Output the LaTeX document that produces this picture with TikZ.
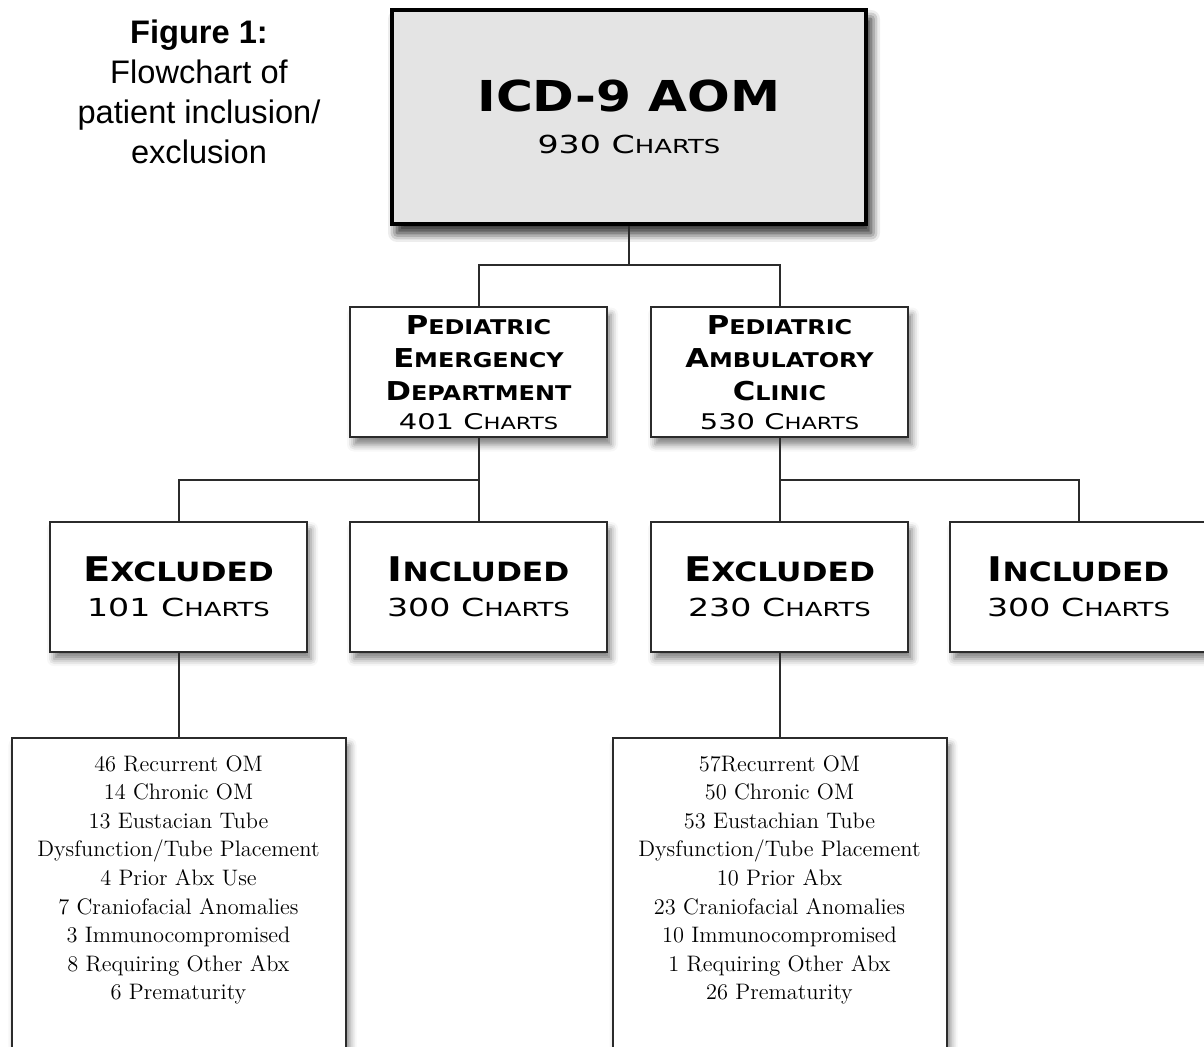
\documentclass[tikz,border=0pt]{standalone}
\usepackage{fontspec}
\setsansfont{Liberation Sans}
\newfontfamily\cpfont[UprightFeatures={FakeStretch=1.34}, BoldFeatures={FakeStretch=1.18}]{DejaVu Sans}
\usepackage{graphicx}
\usepackage{xcolor}
\definecolor{topfill}{HTML}{E4E4E4}
\definecolor{edge}{HTML}{2B2B2B}
\usetikzlibrary{positioning, shadows.blur}
\newcommand{\smc}[1]{\scalebox{0.78}{#1}}
\newcommand{\bigcp}{\cpfont\bfseries\fontsize{21.3}{24}\selectfont}
\newcommand{\headcp}{\cpfont\bfseries\fontsize{17}{20}\selectfont}
\newcommand{\midcp}{\cpfont\bfseries\fontsize{13}{16.5}\selectfont}
\newcommand{\countcp}{\cpfont\mdseries\fontsize{12.4}{21}\selectfont}
\newcommand{\smallcount}{\cpfont\mdseries\fontsize{10.8}{14.5}\selectfont}

\begin{document}
\begin{tikzpicture}[x=0.5pt, y=-0.5pt,
    box/.style={rectangle, draw=edge, fill=white, line width=1pt, inner sep=0pt,
        minimum width=128.5pt, minimum height=65pt, align=center,
        blur shadow={shadow xshift=2pt, shadow yshift=-3.5pt, shadow blur radius=3.5pt, shadow opacity=50}},
    topbox/.style={box, draw=black, fill=topfill, line width=2pt,
        minimum width=237pt, minimum height=107pt,
        blur shadow={shadow xshift=2.5pt, shadow yshift=-4.5pt, shadow blur radius=4.5pt, shadow opacity=55}},
    listbox/.style={box, minimum width=167pt, minimum height=165pt},
    listtext/.style={align=center, inner sep=0pt, font=\fontsize{11.2}{14.3}\selectfont},
    caption/.style={align=center, inner sep=0pt, font=\sffamily\fontsize{16.3}{20}\selectfont},
    conn/.style={line width=1pt, edge}
]
\useasboundingbox (0,0) rectangle (1204,1047);

% Caption (top left)
\node[caption] (cap) at (199,92) {\textbf{Figure 1:}\\Flowchart of\\patient inclusion/\\exclusion};

% All charts
\node[topbox, font=\countcp] (aom) at (629,117) {{\bigcp ICD-9 AOM}\\930 C\smc{HARTS}};

% Departments
\node[box, font=\midcp] (ped) at (478.5,372.5) {P\smc{EDIATRIC}\\E\smc{MERGENCY}\\D\smc{EPARTMENT}\\[-2pt]{\smallcount 401 C\smc{HARTS}}};
\node[box, font=\midcp] (pac) at (779.5,372.5) {P\smc{EDIATRIC}\\A\smc{MBULATORY}\\C\smc{LINIC}\\[-2pt]{\smallcount 530 C\smc{HARTS}}};

% Excluded / included
\node[box, font=\countcp] (exc1) at (178.5,587) {{\headcp E\smc{XCLUDED}}\\[-3.5pt]101 C\smc{HARTS}};
\node[box, font=\countcp] (inc1) at (478.5,587) {{\headcp I\smc{NCLUDED}}\\[-3.5pt]300 C\smc{HARTS}};
\node[box, font=\countcp] (exc2) at (779.5,587) {{\headcp E\smc{XCLUDED}}\\[-3.5pt]230 C\smc{HARTS}};
\node[box, font=\countcp] (inc2) at (1078.5,587) {{\headcp I\smc{NCLUDED}}\\[-3.5pt]300 C\smc{HARTS}};

% Reasons for exclusion
\node[listbox] (why1) at (178.5,903) {};
\node[listtext, below=9pt of why1.north] (why1txt) {46 Recurrent OM\\14 Chronic OM\\13 Eustacian Tube\\Dysfunction/Tube Placement\\4 Prior Abx Use\\7 Craniofacial Anomalies\\3 Immunocompromised\\8 Requiring Other Abx\\6 Prematurity};
\node[listbox] (why2) at (779.5,903) {};
\node[listtext, below=9pt of why2.north] (why2txt) {57Recurrent OM\\50 Chronic OM\\53 Eustachian Tube\\Dysfunction/Tube Placement\\10 Prior Abx\\23 Craniofacial Anomalies\\10 Immunocompromised\\1 Requiring Other Abx\\26 Prematurity};

% Connectors
\coordinate (j1) at (629,265);
\coordinate (j2) at (478.5,480);
\coordinate (j3) at (779.5,480);
\draw[conn] (aom.south) -- (j1);
\draw[conn] (ped.north) |- (j1) -| (pac.north);
\draw[conn] (ped.south) -- (inc1.north);
\draw[conn] (exc1.north) |- (j2);
\draw[conn] (pac.south) -- (exc2.north);
\draw[conn] (inc2.north) |- (j3);
\draw[conn] (exc1.south) -- (why1.north);
\draw[conn] (exc2.south) -- (why2.north);

\end{tikzpicture}
\end{document}
